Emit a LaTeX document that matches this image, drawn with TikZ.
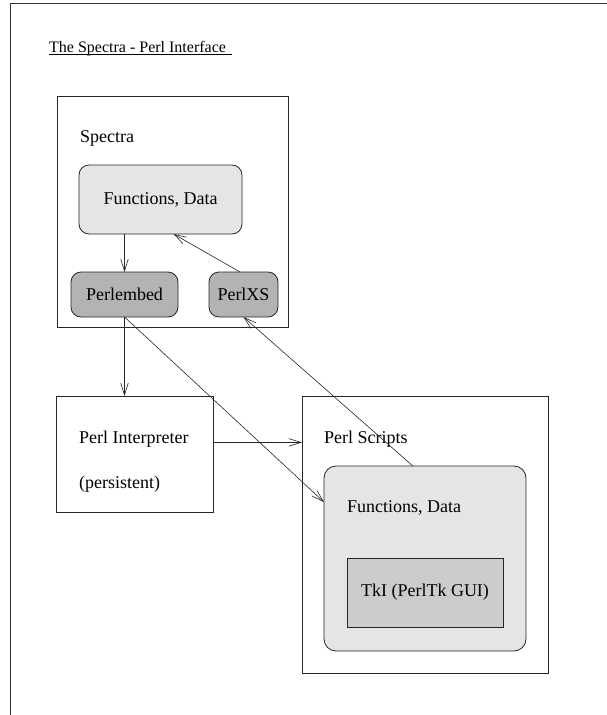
\documentclass[tikz,border=0pt]{standalone}
\usepackage{fontspec}
\setmainfont{Liberation Serif}
\usetikzlibrary{arrows.meta,calc}
\definecolor{lightfill}{HTML}{E5E5E5}
\definecolor{darkfill}{HTML}{B3B3B3}
\definecolor{midfill}{HTML}{CCCCCC}
\tikzset{
  plain/.style={draw=black!85, line width=0.8pt, inner sep=0pt, outer sep=0pt, anchor=north west},
  roundbox/.style={plain, rounded corners=10pt},
  lbl/.style={anchor=base west, inner sep=0pt, font=\fontsize{18}{21}\selectfont},
  arr/.style={draw=black!85, line width=0.6pt, -{Straight Barb[length=12pt,width=7.5pt,line width=0.6pt]}},
}
\begin{document}
\begin{tikzpicture}[x=1pt,y=-1pt]
\useasboundingbox (0,0) rectangle (607,715);
% page frame
\coordinate (ftl) at (10,3.5);
\coordinate (ftr) at (607,3.5);
\coordinate (fbl) at (10,715);
\draw[line width=1pt, black!80] (ftr) -- (ftl) -- (fbl);
% title
\node[anchor=base west, inner sep=0pt, font=\fontsize{16}{19}\selectfont] (title) at (49,52) {The Spectra - Perl Interface};
\coordinate (ulend) at (232,54.5);
\draw[line width=0.7pt] (title.base west |- ulend) -- (ulend);
% Spectra block
\node[plain, minimum width=231pt, minimum height=231pt] (spectra) at (57,96) {};
\node[lbl] (spectralbl) at (80,142) {Spectra};
\node[roundbox, fill=lightfill, minimum width=163pt, minimum height=69pt, font=\fontsize{18}{21}\selectfont] (fd1) at (79,165) {Functions, Data};
\node[roundbox, fill=darkfill, minimum width=107pt, minimum height=45pt, font=\fontsize{18}{21}\selectfont] (pe) at (71,272) {Perlembed};
\node[roundbox, fill=darkfill, minimum width=69pt, minimum height=45pt, font=\fontsize{18}{21}\selectfont] (px) at (209,272) {PerlXS};
% Perl interpreter
\node[plain, minimum width=157pt, minimum height=116pt] (pi) at (56,396) {};
\node[lbl] (pil1) at (79,443) {Perl Interpreter};
\node[lbl] (pil2) at (79,488) {(persistent)};
% Perl scripts
\node[plain, minimum width=246pt, minimum height=277pt] (ps) at (302,396) {};
\node[lbl] (pslbl) at (324,443) {Perl Scripts};
\node[roundbox, rounded corners=12pt, fill=lightfill, minimum width=202pt, minimum height=185pt] (fd2) at (324,466) {};
\node[lbl] (fd2lbl) at (347,512) {Functions, Data};
\node[plain, fill=midfill, minimum width=156pt, minimum height=69pt, font=\fontsize{18}{21}\selectfont] (tki) at (347,558) {TkI (PerlTk GUI)};
% connectors
\draw[arr] (fd1.south -| pe.north) -- (pe.north);
\draw[arr] ($(px.north west)!0.45!(px.north east)$) -- ($(fd1.south west)!0.58!(fd1.south east)$);
\draw[arr] (pe.south) -- (pe.south |- pi.north);
\draw[arr] (pe.south) -- ($(fd2.north west)!0.195!(fd2.south west)$);
\coordinate (pia) at ($(pi.north east)!0.4!(pi.south east)$);
\draw[arr] (pia) -- (pia -| ps.west);
\draw[arr] ($(fd2.north west)!0.44!(fd2.north east)$) -- (px.south);
\end{tikzpicture}
\end{document}
